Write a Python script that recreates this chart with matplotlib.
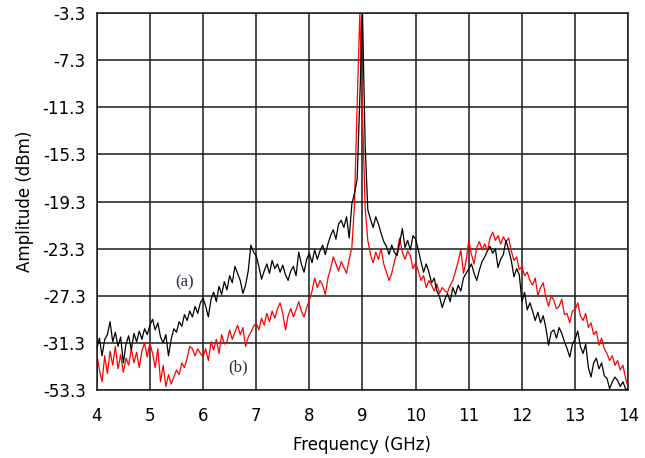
import numpy as np
import matplotlib.pyplot as plt

# frequency sample grid (GHz), one point every 0.05 GHz
freq = np.round(np.linspace(4.0, 14.0, 201), 2)

# trace (a), black, dBm
amp_a = [
    -31.8, -30.9, -32.4, -31.0, -30.6, -29.5, -31.2, -30.4, -31.6, -30.8,
    -33.0, -31.4, -30.7, -31.9, -30.5, -31.2, -30.3, -31.0, -30.1, -30.6,
    -29.8, -29.3, -30.2, -29.6, -30.8, -31.3, -30.6, -32.4, -31.0, -30.1,
    -30.4, -29.5, -29.9, -28.9, -29.4, -28.6, -29.1, -28.2, -28.8, -27.9,
    -27.5, -28.2, -29.1, -27.6, -27.0, -27.8, -26.5, -27.2, -26.1, -26.8,
    -25.6, -26.2, -24.8, -25.4, -26.0, -27.1, -26.4, -25.2, -23.0, -23.6,
    -23.9, -24.8, -25.9, -25.2, -24.6, -25.4, -24.3, -25.0, -24.6, -25.3,
    -24.7, -25.5, -26.0, -25.2, -24.8, -25.6, -23.6, -24.6, -25.3, -24.2,
    -23.7, -24.5, -23.4, -24.2, -23.5, -23.0, -23.8, -22.9, -22.2, -21.7,
    -22.5, -21.2, -20.9, -21.5, -20.6, -22.4, -19.5, -18.6, -17.4, -10.5,
    -3.3, -14.5, -20.0, -20.8, -21.5, -20.6, -21.2, -22.0, -22.7, -23.1,
    -23.8, -23.0, -23.6, -23.9, -22.8, -21.6, -23.2, -22.6, -23.4, -22.2,
    -22.5, -23.4, -24.4, -25.3, -24.6, -25.3, -26.2, -25.8, -26.9, -27.4,
    -28.3, -27.6, -27.1, -27.8, -26.6, -27.2, -26.4, -26.9, -25.8, -25.4,
    -25.0, -24.6, -25.4, -26.0, -25.1, -24.4, -24.0, -23.5, -23.1, -23.7,
    -23.3, -24.9, -24.2, -23.8, -22.6, -23.4, -24.3, -25.7, -25.0, -25.5,
    -27.8, -27.0, -28.5, -27.9, -28.6, -29.4, -28.7, -29.6, -29.0, -30.0,
    -31.5, -30.4, -30.2, -30.9, -30.0, -30.5, -31.2, -31.8, -32.5, -31.4,
    -31.0, -30.3, -31.6, -32.2, -31.4, -33.4, -34.2, -33.0, -32.6, -33.5,
    -33.0, -34.1, -34.3, -35.2, -34.6, -34.2, -34.5, -35.0, -34.6, -35.2,
    -35.3,
]

# trace (b), red
amp_b = [
    -32.2, -33.6, -34.6, -32.4, -33.9, -32.0, -33.2, -31.6, -33.5, -32.3,
    -33.8, -32.6, -33.2, -31.8, -33.0, -32.1, -33.4, -32.0, -31.3, -32.5,
    -31.3, -32.2, -33.4, -31.8, -34.6, -33.2, -35.0, -34.0, -34.8, -34.2,
    -33.6, -34.0, -33.0, -33.4, -32.6, -31.6, -31.8, -32.4, -31.8, -32.2,
    -32.5, -31.8, -32.8, -31.2, -31.9, -31.0, -32.2, -30.6, -31.4, -31.2,
    -30.2, -31.0, -30.4, -29.8, -30.6, -30.0, -31.6, -30.8, -30.4, -29.9,
    -29.6, -30.2, -29.2, -29.8, -28.8, -29.5, -28.6, -29.2, -28.4, -27.9,
    -28.8, -30.2, -29.0, -28.4, -29.1, -28.5, -27.8, -28.6, -29.1, -28.3,
    -27.7, -26.9, -25.8, -26.6, -26.0, -26.4, -27.2, -25.8, -25.0, -24.0,
    -24.6, -25.2, -24.4, -24.9, -25.4, -24.2, -23.2, -19.5, -11.0, -3.3,
    -12.0, -19.8, -22.6, -23.8, -24.5, -23.6, -24.2, -23.3, -24.6, -25.3,
    -26.0, -25.4, -24.4, -23.6, -22.4, -23.6, -24.2, -23.5, -23.9, -25.0,
    -24.5, -25.2, -26.0, -25.6, -26.6, -26.0, -26.4, -26.9, -26.3, -27.1,
    -26.6, -26.9, -27.0, -26.4, -26.0, -25.2, -24.4, -23.4, -25.4, -24.3,
    -22.6, -23.8, -24.6, -23.2, -22.7, -23.4, -22.9, -23.5, -22.4, -21.9,
    -22.6, -22.2, -22.9, -22.3, -22.7, -22.4, -23.5, -24.3, -24.0, -25.1,
    -24.8, -25.6, -25.3, -26.0, -26.4, -25.8, -27.3, -26.6, -26.2, -27.4,
    -28.2, -27.3, -27.7, -28.4, -28.2, -27.6, -28.9, -28.8, -29.6, -28.6,
    -28.5, -27.9, -29.0, -29.4, -28.8, -30.0, -29.6, -30.6, -30.3, -31.5,
    -30.9, -31.8, -32.2, -32.8, -32.4, -33.2, -32.8, -33.6, -33.2, -34.3,
    -35.1,
]

xticks = [4, 5, 6, 7, 8, 9, 10, 11, 12, 13, 14]
yticks = [-35.3, -31.3, -27.3, -23.3, -19.3, -15.3, -11.3, -7.3, -3.3]
ytick_labels = ['-53.3', '-31.3', '-27.3', '-23.3', '-19.3', '-15.3', '-11.3', '-7.3', '-3.3']

fig = plt.figure(figsize=(6.45, 4.58), dpi=100)
ax = fig.add_axes([0.150, 0.1485, 0.824, 0.823])

ax.plot(freq, amp_a, color='black', linewidth=0.9, zorder=3)
ax.plot(freq, amp_b, color='red', linewidth=0.9, zorder=2)

ax.set_xlim(4, 14)
ax.set_ylim(-35.3, -3.3)
ax.set_xticks(xticks)
ax.set_yticks(yticks)
ax.set_yticklabels(ytick_labels)
ax.tick_params(length=0, labelsize=12, colors='black')
ax.tick_params(axis='x', pad=12)
ax.tick_params(axis='y', pad=8)
ax.grid(True, color='#1a1a1a', linewidth=1.1)
for s in ax.spines.values():
    s.set_color('#1a1a1a')
    s.set_linewidth(1.1)

ax.text(5.66, -26.2, '(a)', family='Liberation Serif', fontsize=12,
        color='#2b2b3b', ha='center', va='center')
ax.text(6.66, -33.4, '(b)', family='Liberation Serif', fontsize=12,
        color='#2b2b3b', ha='center', va='center')

ax.set_xlabel('Frequency (GHz)', fontsize=12, labelpad=8)
ax.set_ylabel('Amplitude (dBm)', fontsize=12, labelpad=6)

fig.savefig('out.png', dpi=100)
